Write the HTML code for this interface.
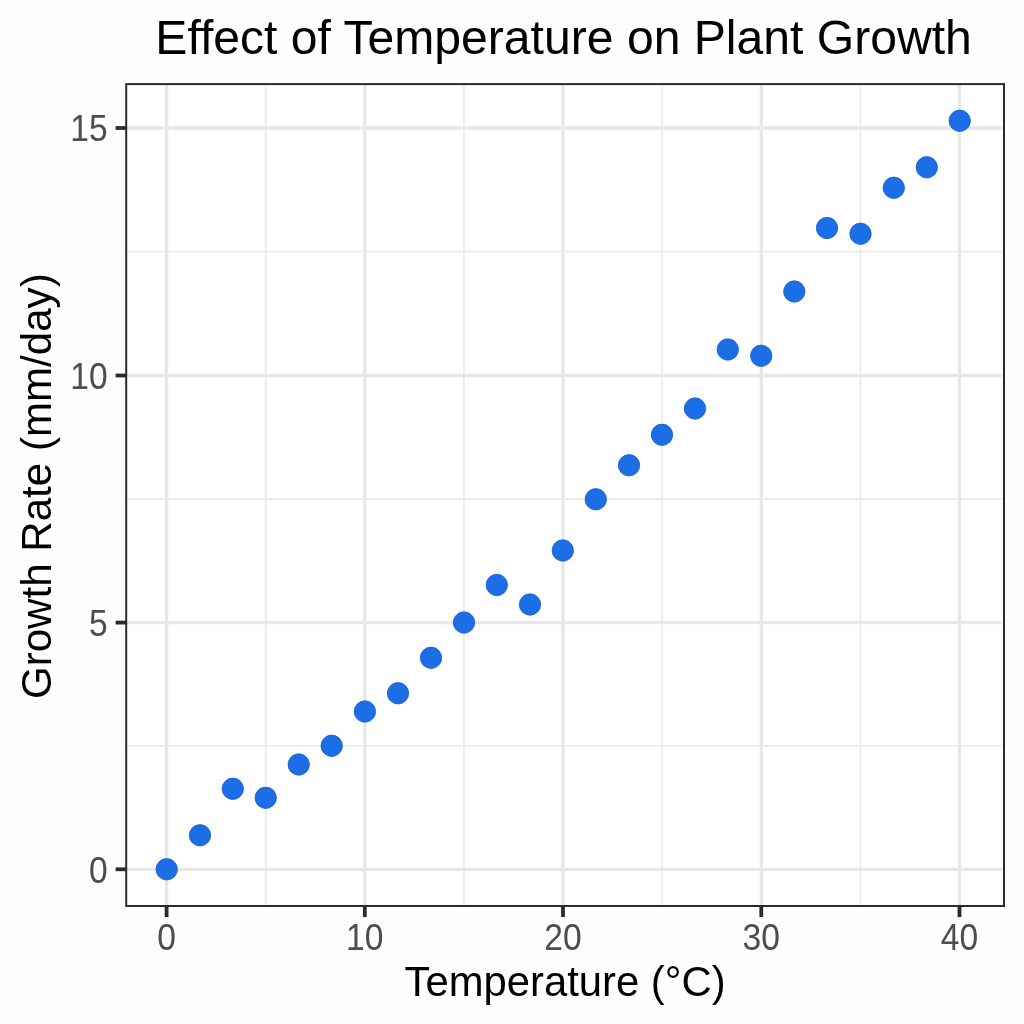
<!DOCTYPE html>
<html lang="en"><head><meta charset="utf-8"><title>Effect of Temperature on Plant Growth</title>
<style>
html,body{margin:0;padding:0;background:#fefefe;}
body{width:1024px;height:1024px;overflow:hidden;}
svg{display:block;}
text{font-family:"Liberation Sans",sans-serif;}
.ax{fill:#4d4d4d;font-size:33.6px;}
.ttl{fill:#000;font-size:48.12px;}
.lab{fill:#000;font-size:42.1px;}
</style></head><body>
<svg width="1024" height="1024" viewBox="0 0 1024 1024">
<rect x="0" y="0" width="1024" height="1024" fill="#fefefe"/>
<rect x="126.2" y="84.1" width="877.8" height="821.9" fill="#ffffff"/>
<g stroke="#ebebeb" stroke-width="1.8">
<line x1="265.7" y1="84.1" x2="265.7" y2="906.0"/>
<line x1="463.9" y1="84.1" x2="463.9" y2="906.0"/>
<line x1="662.2" y1="84.1" x2="662.2" y2="906.0"/>
<line x1="860.4" y1="84.1" x2="860.4" y2="906.0"/>
<line x1="126.2" y1="745.8" x2="1001.8" y2="745.8"/>
<line x1="126.2" y1="499.0" x2="1001.8" y2="499.0"/>
<line x1="126.2" y1="251.6" x2="1001.8" y2="251.6"/>
</g>
<g stroke="#e7e7e7" stroke-width="3.3">
<line x1="166.6" y1="84.1" x2="166.6" y2="906.0"/>
<line x1="364.8" y1="84.1" x2="364.8" y2="906.0"/>
<line x1="563.0" y1="84.1" x2="563.0" y2="906.0"/>
<line x1="761.3" y1="84.1" x2="761.3" y2="906.0"/>
<line x1="959.5" y1="84.1" x2="959.5" y2="906.0"/>
<line x1="126.2" y1="869.3" x2="1001.8" y2="869.3"/>
<line x1="126.2" y1="622.6" x2="1001.8" y2="622.6"/>
<line x1="126.2" y1="375.5" x2="1001.8" y2="375.5"/>
<line x1="126.2" y1="128.0" x2="1001.8" y2="128.0"/>
</g>
<g fill="#1b6ee5" stroke="#1a60cc" stroke-width="0.8">
<circle cx="166.7" cy="869.3" r="10.7"/>
<circle cx="200.0" cy="835.3" r="10.7"/>
<circle cx="232.8" cy="788.8" r="10.7"/>
<circle cx="265.7" cy="797.8" r="10.7"/>
<circle cx="298.7" cy="764.5" r="10.7"/>
<circle cx="331.7" cy="745.8" r="10.7"/>
<circle cx="364.9" cy="711.5" r="10.7"/>
<circle cx="398.0" cy="693.3" r="10.7"/>
<circle cx="431.0" cy="657.8" r="10.7"/>
<circle cx="464.0" cy="622.5" r="10.7"/>
<circle cx="496.8" cy="585.0" r="10.7"/>
<circle cx="530.0" cy="604.5" r="10.7"/>
<circle cx="562.8" cy="550.5" r="10.7"/>
<circle cx="595.8" cy="499.3" r="10.7"/>
<circle cx="629.0" cy="465.3" r="10.7"/>
<circle cx="662.0" cy="434.8" r="10.7"/>
<circle cx="695.0" cy="408.5" r="10.7"/>
<circle cx="727.8" cy="349.5" r="10.7"/>
<circle cx="761.2" cy="355.8" r="10.7"/>
<circle cx="794.3" cy="291.5" r="10.7"/>
<circle cx="827.0" cy="228.0" r="10.7"/>
<circle cx="860.5" cy="233.8" r="10.7"/>
<circle cx="893.8" cy="187.8" r="10.7"/>
<circle cx="926.8" cy="167.3" r="10.7"/>
<circle cx="959.7" cy="120.8" r="10.7"/>
</g>
<rect x="126.2" y="84.1" width="877.8" height="821.9" fill="none" stroke="#2b2b2b" stroke-width="2"/>
<g stroke="#2b2b2b" stroke-width="3.8">
<line x1="166.6" y1="906.0" x2="166.6" y2="917.1"/>
<line x1="364.8" y1="906.0" x2="364.8" y2="917.1"/>
<line x1="563.0" y1="906.0" x2="563.0" y2="917.1"/>
<line x1="761.3" y1="906.0" x2="761.3" y2="917.1"/>
<line x1="959.5" y1="906.0" x2="959.5" y2="917.1"/>
<line x1="115.6" y1="869.3" x2="126.2" y2="869.3"/>
<line x1="115.6" y1="622.6" x2="126.2" y2="622.6"/>
<line x1="115.6" y1="375.5" x2="126.2" y2="375.5"/>
<line x1="115.6" y1="128.0" x2="126.2" y2="128.0"/>
</g>
<text class="ax" transform="translate(166.6,950.0) scale(1,1.095)" text-anchor="middle">0</text>
<text class="ax" transform="translate(364.8,950.0) scale(1,1.095)" text-anchor="middle">10</text>
<text class="ax" transform="translate(563.0,950.0) scale(1,1.095)" text-anchor="middle">20</text>
<text class="ax" transform="translate(761.3,950.0) scale(1,1.095)" text-anchor="middle">30</text>
<text class="ax" transform="translate(959.5,950.0) scale(1,1.095)" text-anchor="middle">40</text>
<text class="ax" transform="translate(107.6,882.6) scale(1,1.10)" text-anchor="end">0</text>
<text class="ax" transform="translate(107.6,635.9) scale(1,1.10)" text-anchor="end">5</text>
<text class="ax" transform="translate(107.6,388.8) scale(1,1.10)" text-anchor="end">10</text>
<text class="ax" transform="translate(107.6,141.3) scale(1,1.10)" text-anchor="end">15</text>
<text class="ttl" x="563.6" y="54" text-anchor="middle">Effect of Temperature on Plant Growth</text>
<text class="lab" style="font-size:41.8px" x="565.1" y="996.3" text-anchor="middle">Temperature (°C)</text>
<text class="lab" transform="translate(51,486.2) rotate(-90)" text-anchor="middle">Growth Rate (mm/day)</text>
</svg>
</body></html>
